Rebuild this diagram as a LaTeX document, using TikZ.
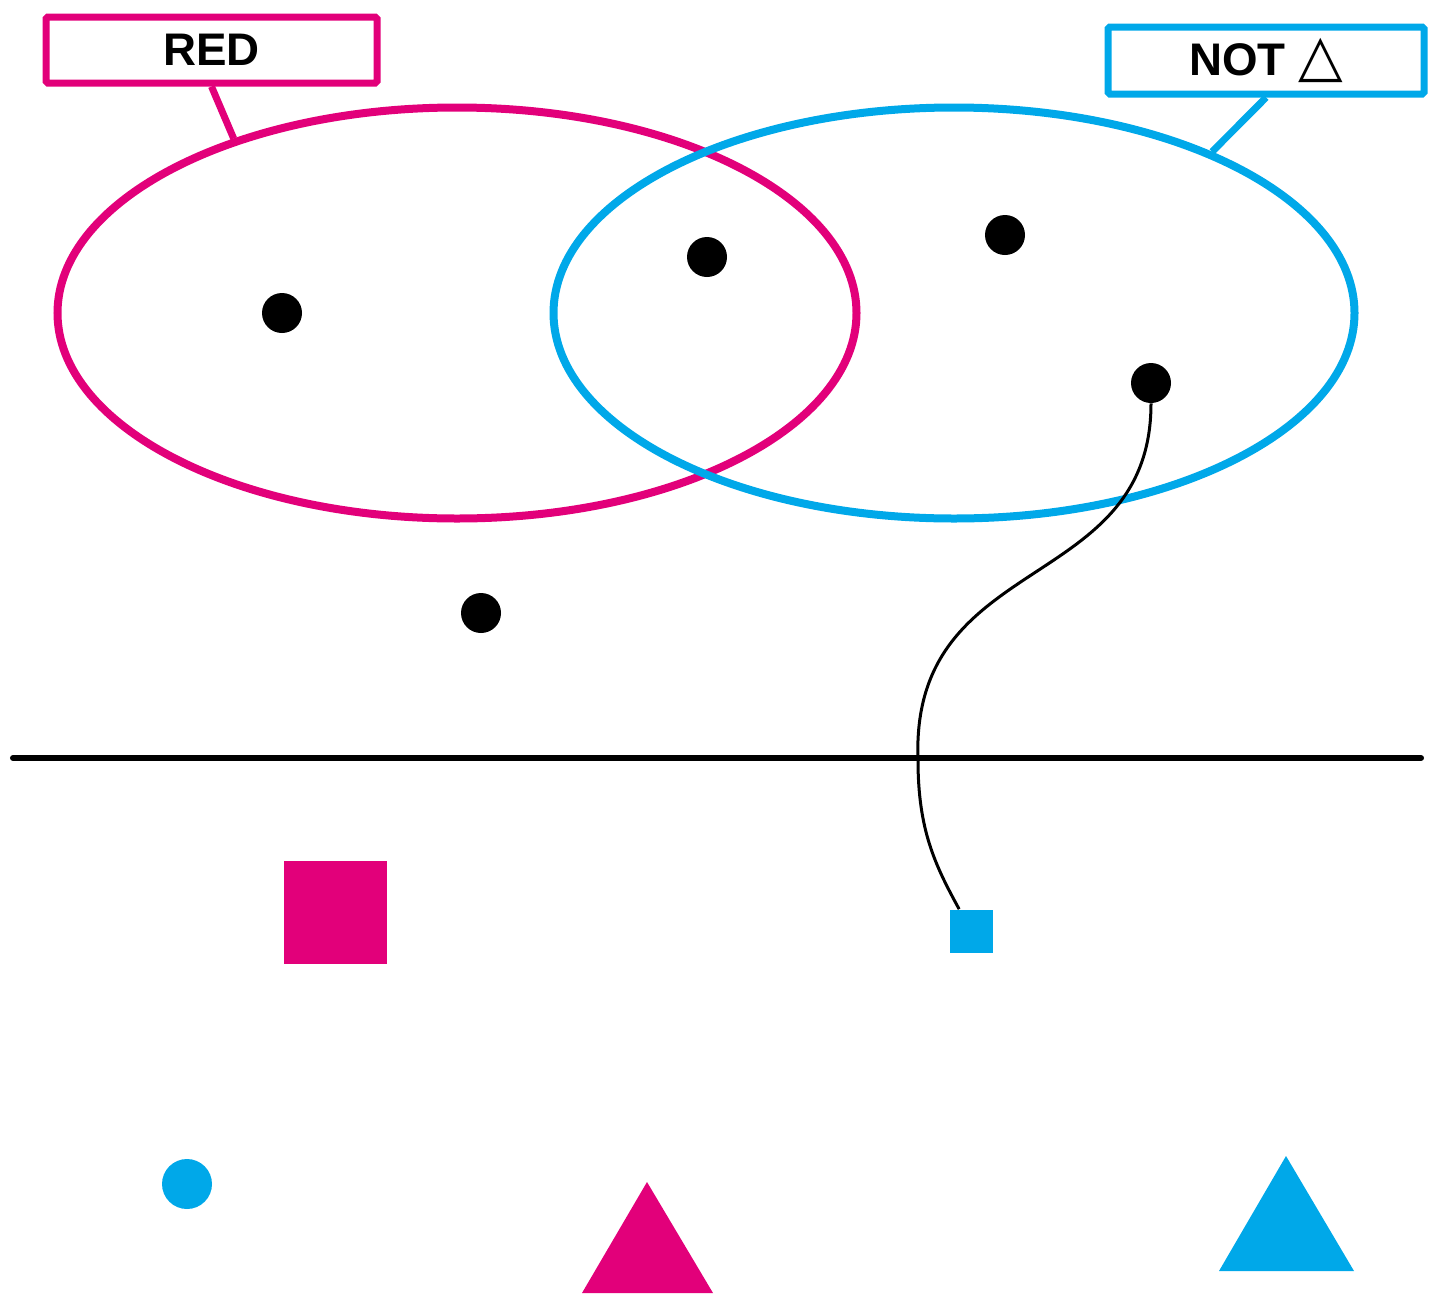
\documentclass[tikz,border=0pt]{standalone}
\usepackage{fontspec}
\setmainfont{Liberation Sans}
\newfontfamily\symfont{DejaVu Sans}
\usepackage{tikz}
\usetikzlibrary{shapes.geometric}
\definecolor{setred}{RGB}{226, 0, 122}
\definecolor{setblue}{RGB}{0, 168, 233}

\begin{document}
\begin{tikzpicture}[
    setring/.style={draw, ellipse, line width=0.16cm, inner sep=0pt},
    tagbox/.style={draw, line width=0.14cm, rounded corners=1pt, inner sep=0pt,
        font=\fontsize{26}{30}\selectfont\bfseries},
    elem/.style={circle, fill=black, inner sep=0pt, minimum size=0.8cm}]
    \useasboundingbox (0,0) rectangle (28.58,-25.86);

    % Sets
    \node[setring, setred, minimum width=15.98cm, minimum height=8.22cm] (redset) at (9.14,-6.26) {};
    \node[setring, setblue, minimum width=16.02cm, minimum height=8.22cm] (notset) at (19.08,-6.26) {};

    % Labels
    \node[tagbox, setred, minimum width=6.62cm, minimum height=1.32cm, text=black] (redtag) at (4.23,-1.0) {RED};
    \node[tagbox, setblue, minimum width=6.32cm, minimum height=1.34cm, text=black] (nottag) at (25.32,-1.21)
        {NOT {\symfont\fontsize{33}{30}\selectfont △}};
    \draw[setred, line width=0.14cm] (redtag.south) -- (redset.142);
    \draw[setblue, line width=0.14cm] (nottag.south) -- (notset.32);

    % Elements
    \node[elem] (e1) at (5.64,-6.26) {};
    \node[elem] (e2) at (14.14,-5.14) {};
    \node[elem] (e3) at (20.10,-4.70) {};
    \node[elem] (e4) at (23.02,-7.66) {};
    \node[elem] (e5) at (9.62,-12.26) {};

    % Divider
    \coordinate (divl) at (0.26,-15.16);
    \coordinate (divr) at (28.42,-15.16);
    \draw[line width=0.12cm, line cap=round] (divl) -- (divr);

    % Objects
    \node[fill=setred, inner sep=0pt, minimum size=2.06cm] (bigsq) at (6.7,-18.24) {};
    \node[fill=setblue, inner sep=0pt, minimum size=0.86cm] (smallsq) at (19.42,-18.62) {};
    \node[circle, fill=setblue, inner sep=0pt, minimum size=1.0cm] (dot) at (3.74,-23.68) {};
    \fill[setred] (12.94,-23.64) -- (14.26,-25.86) -- (11.64,-25.86) -- cycle;
    \fill[setblue] (25.72,-23.12) -- (27.08,-25.42) -- (24.38,-25.42) -- cycle;

    % Mapping
    \coordinate (bend) at (18.36,-15.2);
    \draw[line width=0.06cm] (e4.south) .. controls (23.02,-11.9) and (18.2,-11.0) .. (bend)
        .. controls (18.36,-16.6) and (18.7,-17.3) .. ([xshift=0.2cm]smallsq.north west);
\end{tikzpicture}
\end{document}
